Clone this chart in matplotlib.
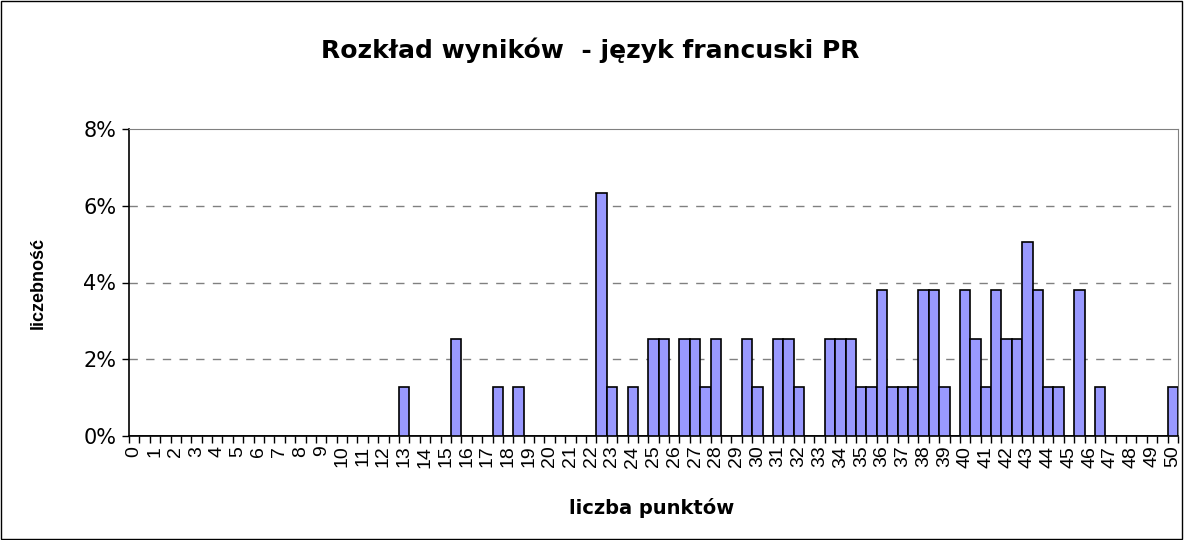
import numpy as np
import matplotlib.pyplot as plt
from matplotlib.patches import Rectangle

plt.rcParams['font.family'] = ['Liberation Sans', 'DejaVu Sans']

# score categories 0, 0.5, ..., 50
punkty = np.arange(0, 50.5, 0.5)
# share of students per score (%)
liczebnosc = [
    0, 0, 0, 0, 0, 0, 0, 0, 0, 0,
    0, 0, 0, 0, 0, 0, 0, 0, 0, 0,
    0, 0, 0, 0, 0, 0, 1.27, 0, 0, 0,
    0, 2.53, 0, 0, 0, 1.27, 0, 1.27, 0, 0,
    0, 0, 0, 0, 0, 6.33, 1.27, 0, 1.27, 0,
    2.53, 2.53, 0, 2.53, 2.53, 1.27, 2.53, 0, 0, 2.53,
    1.27, 0, 2.53, 2.53, 1.27, 0, 0, 2.53, 2.53, 2.53,
    1.27, 1.27, 3.80, 1.27, 1.27, 1.27, 3.80, 3.80, 1.27, 0,
    3.80, 2.53, 1.27, 3.80, 2.53, 2.53, 5.06, 3.80, 1.27, 1.27,
    0, 3.80, 0, 1.27, 0, 0, 0, 0, 0, 0, 1.27,
]
x_labels = [str(int(p)) for p in punkty[::2]]
y_ticks = [0, 2, 4, 6, 8]

# the source text looks horizontally stretched, the wider DejaVu face fits it better
wide = ['DejaVu Sans']

fig = plt.figure(figsize=(11.84, 5.4), dpi=100)
ax = fig.add_axes([129/1184, 1 - 436/540, 1049/1184, 307/540])

idx = np.arange(len(punkty))
ax.bar(idx, liczebnosc, width=1.0, color='#9999FF', edgecolor='black',
       linewidth=1.2, zorder=3)

ax.set_xlim(-0.5, len(punkty) - 0.5)
ax.set_ylim(0, 8)

# tick marks at category boundaries, labels on every second category
ax.set_xticks(idx[::2])
ax.set_xticklabels(x_labels, rotation=90, fontsize=14, va='top')
ax.set_xticks(np.arange(len(punkty) + 1) - 0.5, minor=True)
ax.tick_params(axis='x', which='major', length=0, pad=7)
ax.tick_params(axis='x', which='minor', length=5, width=1, direction='out')

ax.set_yticks(y_ticks)
ax.set_yticklabels([f'{v}%' for v in y_ticks], fontsize=15, family=wide)
ax.tick_params(axis='y', length=5, width=1, direction='out', pad=4)

for y in y_ticks[1:-1]:
    ax.axhline(y, color='#808080', linewidth=1, linestyle=(0, (6, 6)), zorder=1)

ax.spines['left'].set_color('black')
ax.spines['bottom'].set_color('black')
ax.spines['left'].set_linewidth(1.2)
ax.spines['bottom'].set_linewidth(1.2)
ax.spines['top'].set_color('#808080')
ax.spines['right'].set_color('#808080')

fig.text(590/1184, 1 - 50/540, 'Rozkład wyników  - język francuski PR',
         ha='center', va='center', fontsize=18, fontweight='bold', family=wide)
fig.text(652/1184, 1 - 508/540, 'liczba punktów', ha='center', va='center',
         fontsize=14, fontweight='bold', family=wide)
fig.text(38/1184, 1 - 283/540, 'liczebność', ha='center', va='center',
         rotation=90, fontsize=13, fontweight='bold')

# chart border
fig.patches.append(Rectangle((0.0005, 0.001), 0.998, 0.997, transform=fig.transFigure,
                             fill=False, edgecolor='black', linewidth=1))

fig.savefig('out.png', dpi=100)
